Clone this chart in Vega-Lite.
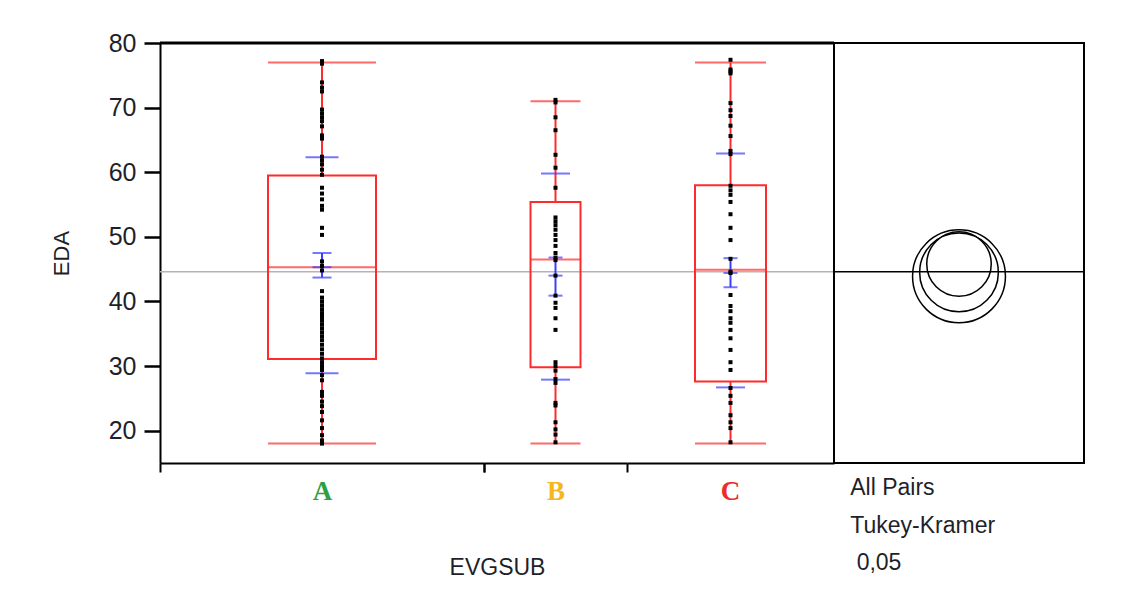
{
  "$schema": "https://vega.github.io/schema/vega-lite/v6.json",
  "background": "white",
  "padding": {"left": 50, "top": 31, "right": 5, "bottom": 5},
  "config": {"view": {"stroke": null}, "font": "Liberation Sans"},
  "spacing": 0,
  "bounds": "flush",
  "datasets": {
    "overall": [{"grand_mean": 44.6}],
    "stats": [
      {"g": "A", "min": 18, "q1": 31.1, "median": 45.3, "q3": 59.5, "max": 77, "mean": 45.3, "ci_lo": 43.7, "ci_hi": 47.5, "sd_lo": 28.9, "sd_hi": 62.3},
      {"g": "B", "min": 18, "q1": 29.8, "median": 46.5, "q3": 55.4, "max": 71.0, "mean": 44.0, "ci_lo": 40.9, "ci_hi": 46.8, "sd_lo": 27.9, "sd_hi": 59.8},
      {"g": "C", "min": 18, "q1": 27.6, "median": 44.9, "q3": 58.0, "max": 77, "mean": 44.4, "ci_lo": 42.2, "ci_hi": 46.7, "sd_lo": 26.7, "sd_hi": 62.9}
    ],
    "circles": [
      {"g": "A", "center": 45.8, "radius": 5.0},
      {"g": "B", "center": 43.9, "radius": 7.2},
      {"g": "C", "center": 44.5, "radius": 6.1}
    ],
    "points": [
      {"g": "A", "EDA": 77.2}, {"g": "A", "EDA": 77.0}, {"g": "A", "EDA": 76.8}, {"g": "A", "EDA": 73.9}, {"g": "A", "EDA": 73.1}, {"g": "A", "EDA": 72.5}, {"g": "A", "EDA": 69.7}, {"g": "A", "EDA": 69.1}, {"g": "A", "EDA": 68.5}, {"g": "A", "EDA": 67.9}, {"g": "A", "EDA": 67.1}, {"g": "A", "EDA": 65.7}, {"g": "A", "EDA": 65.2}, {"g": "A", "EDA": 62.4}, {"g": "A", "EDA": 61.8}, {"g": "A", "EDA": 61.2}, {"g": "A", "EDA": 60.4}, {"g": "A", "EDA": 59.6}, {"g": "A", "EDA": 57.6}, {"g": "A", "EDA": 56.7}, {"g": "A", "EDA": 55.8}, {"g": "A", "EDA": 54.8}, {"g": "A", "EDA": 54.2}, {"g": "A", "EDA": 51.4}, {"g": "A", "EDA": 50.3}, {"g": "A", "EDA": 46.2}, {"g": "A", "EDA": 45.5}, {"g": "A", "EDA": 44.8}, {"g": "A", "EDA": 41.6}, {"g": "A", "EDA": 40.6}, {"g": "A", "EDA": 40.0}, {"g": "A", "EDA": 39.4}, {"g": "A", "EDA": 38.8}, {"g": "A", "EDA": 38.2}, {"g": "A", "EDA": 37.6}, {"g": "A", "EDA": 37.0}, {"g": "A", "EDA": 36.4}, {"g": "A", "EDA": 35.8}, {"g": "A", "EDA": 35.2}, {"g": "A", "EDA": 34.6}, {"g": "A", "EDA": 34.0}, {"g": "A", "EDA": 33.3}, {"g": "A", "EDA": 32.6}, {"g": "A", "EDA": 31.9}, {"g": "A", "EDA": 31.2}, {"g": "A", "EDA": 30.6}, {"g": "A", "EDA": 30.0}, {"g": "A", "EDA": 29.4}, {"g": "A", "EDA": 28.6}, {"g": "A", "EDA": 27.8}, {"g": "A", "EDA": 26.0}, {"g": "A", "EDA": 25.4}, {"g": "A", "EDA": 24.5}, {"g": "A", "EDA": 23.8}, {"g": "A", "EDA": 22.9}, {"g": "A", "EDA": 21.6}, {"g": "A", "EDA": 20.4}, {"g": "A", "EDA": 19.3}, {"g": "A", "EDA": 18.5}, {"g": "A", "EDA": 18.0},
      {"g": "B", "EDA": 71.2}, {"g": "B", "EDA": 70.8}, {"g": "B", "EDA": 68.5}, {"g": "B", "EDA": 66.5}, {"g": "B", "EDA": 62.7}, {"g": "B", "EDA": 60.7}, {"g": "B", "EDA": 57.6}, {"g": "B", "EDA": 53.0}, {"g": "B", "EDA": 52.4}, {"g": "B", "EDA": 51.8}, {"g": "B", "EDA": 51.1}, {"g": "B", "EDA": 50.3}, {"g": "B", "EDA": 49.5}, {"g": "B", "EDA": 48.6}, {"g": "B", "EDA": 47.5}, {"g": "B", "EDA": 46.8}, {"g": "B", "EDA": 46.4}, {"g": "B", "EDA": 44.0}, {"g": "B", "EDA": 40.9}, {"g": "B", "EDA": 39.8}, {"g": "B", "EDA": 39.0}, {"g": "B", "EDA": 37.4}, {"g": "B", "EDA": 35.6}, {"g": "B", "EDA": 30.6}, {"g": "B", "EDA": 30.0}, {"g": "B", "EDA": 29.3}, {"g": "B", "EDA": 28.0}, {"g": "B", "EDA": 27.4}, {"g": "B", "EDA": 24.3}, {"g": "B", "EDA": 23.9}, {"g": "B", "EDA": 21.3}, {"g": "B", "EDA": 20.2}, {"g": "B", "EDA": 19.4}, {"g": "B", "EDA": 18.2},
      {"g": "C", "EDA": 77.4}, {"g": "C", "EDA": 75.9}, {"g": "C", "EDA": 75.6}, {"g": "C", "EDA": 75.3}, {"g": "C", "EDA": 70.7}, {"g": "C", "EDA": 69.6}, {"g": "C", "EDA": 68.7}, {"g": "C", "EDA": 67.2}, {"g": "C", "EDA": 65.6}, {"g": "C", "EDA": 63.3}, {"g": "C", "EDA": 62.8}, {"g": "C", "EDA": 57.9}, {"g": "C", "EDA": 57.2}, {"g": "C", "EDA": 56.5}, {"g": "C", "EDA": 55.4}, {"g": "C", "EDA": 53.5}, {"g": "C", "EDA": 51.4}, {"g": "C", "EDA": 49.5}, {"g": "C", "EDA": 46.6}, {"g": "C", "EDA": 44.6}, {"g": "C", "EDA": 44.4}, {"g": "C", "EDA": 41.0}, {"g": "C", "EDA": 39.3}, {"g": "C", "EDA": 38.5}, {"g": "C", "EDA": 37.4}, {"g": "C", "EDA": 36.7}, {"g": "C", "EDA": 35.6}, {"g": "C", "EDA": 34.3}, {"g": "C", "EDA": 32.5}, {"g": "C", "EDA": 30.6}, {"g": "C", "EDA": 29.4}, {"g": "C", "EDA": 26.6}, {"g": "C", "EDA": 25.4}, {"g": "C", "EDA": 24.3}, {"g": "C", "EDA": 22.4}, {"g": "C", "EDA": 21.3}, {"g": "C", "EDA": 20.4}, {"g": "C", "EDA": 18.2}
    ]
  },
  "hconcat": [
    {
      "width": 324, "height": 420,
      "layer": [
        {"data": {"name": "overall"}, "mark": {"type": "rule", "color": "#b4b4b4", "strokeWidth": 1.5},
         "encoding": {"y": {"field": "grand_mean", "type": "quantitative", "scale": {"domain": [15, 80], "nice": false, "zero": false},
           "axis": {"title": "EDA", "values": [20, 30, 40, 50, 60, 70, 80], "labelOverlap": false, "labelFlush": false, "labelFontSize": 25, "labelColor": "#1f1f2a", "labelPadding": 8, "tickSize": 16, "tickWidth": 2.5, "tickColor": "black", "domainColor": "black", "domainWidth": 2, "grid": false, "titleFontSize": 22, "titleFontWeight": "normal", "titleColor": "#1f1f2a", "titlePadding": 35}}}},
        {"data": {"name": "overall"}, "mark": {"type": "rule", "color": "black", "strokeWidth": 3}, "encoding": {"y": {"datum": 80, "type": "quantitative"}}},
        {
          "data": {"name": "stats"}, "transform": [{"filter": "datum.g === 'A'"}],
          "encoding": {"x": {"field": "g", "type": "nominal", "scale": {"domain": ["A"], "paddingInner": 0, "paddingOuter": 0},
                  "axis": {"title": null, "labelAngle": 0, "labelColor": "#2ea043", "labelFont": "Liberation Serif", "labelFontWeight": "bold", "labelFontSize": 27, "labelPadding": 6, "domainColor": "black", "domainWidth": 2, "ticks": true, "tickBand": "extent", "tickSize": 9, "tickColor": "black", "tickWidth": 2}}},
          "layer": [
            {"mark": {"type": "rule", "color": "#ff2b2b", "strokeWidth": 2}, "encoding": {"y": {"field": "min", "type": "quantitative"}, "y2": {"field": "q1"}}},
            {"mark": {"type": "rule", "color": "#ff2b2b", "strokeWidth": 2}, "encoding": {"y": {"field": "q3", "type": "quantitative"}, "y2": {"field": "max"}}},
            {"mark": {"type": "bar", "size": 108, "fill": "transparent", "stroke": "#ff2b2b", "strokeWidth": 2}, "encoding": {"y": {"field": "q1", "type": "quantitative"}, "y2": {"field": "q3"}}},
            {"mark": {"type": "tick", "color": "#ff2b2b", "size": 108, "thickness": 2}, "encoding": {"y": {"field": "min", "type": "quantitative"}}},
            {"mark": {"type": "tick", "color": "#ff2b2b", "size": 108, "thickness": 2}, "encoding": {"y": {"field": "max", "type": "quantitative"}}},
            {"mark": {"type": "tick", "color": "#ff2b2b", "size": 108, "thickness": 2}, "encoding": {"y": {"field": "median", "type": "quantitative"}}},
            {"mark": {"type": "rule", "color": "#3c3cff", "strokeWidth": 2}, "encoding": {"y": {"field": "ci_lo", "type": "quantitative"}, "y2": {"field": "ci_hi"}}},
            {"mark": {"type": "tick", "color": "#3c3cff", "size": 19, "thickness": 2}, "encoding": {"y": {"field": "ci_lo", "type": "quantitative"}}},
            {"mark": {"type": "tick", "color": "#3c3cff", "size": 19, "thickness": 2}, "encoding": {"y": {"field": "ci_hi", "type": "quantitative"}}},
            {"mark": {"type": "tick", "color": "#3c3cff", "size": 19, "thickness": 2}, "encoding": {"y": {"field": "mean", "type": "quantitative"}}},
            {"mark": {"type": "tick", "color": "#3c3cff", "size": 33, "thickness": 2}, "encoding": {"y": {"field": "sd_lo", "type": "quantitative"}}},
            {"mark": {"type": "tick", "color": "#3c3cff", "size": 33, "thickness": 2}, "encoding": {"y": {"field": "sd_hi", "type": "quantitative"}}}
          ]
        },
        {
          "data": {"name": "points"}, "transform": [{"filter": "datum.g === 'A'"}],
          "mark": {"type": "point", "shape": "square", "filled": true, "color": "black", "size": 16, "opacity": 1},
          "encoding": {
            "x": {"field": "g", "type": "nominal"},
            "y": {"field": "EDA", "type": "quantitative"}
          }
        }
      ]
    },
    {
      "width": 143, "height": 420,
      "layer": [
        {"data": {"name": "overall"}, "mark": {"type": "rule", "color": "#b4b4b4", "strokeWidth": 1.5}, "encoding": {"y": {"field": "grand_mean", "type": "quantitative", "scale": {"domain": [15, 80], "nice": false, "zero": false}, "axis": null}}},
        {"data": {"name": "overall"}, "mark": {"type": "rule", "color": "black", "strokeWidth": 3}, "encoding": {"y": {"datum": 80, "type": "quantitative", "axis": null}}},
        {
          "data": {"name": "stats"}, "transform": [{"filter": "datum.g === 'B'"}],
          "encoding": {"x": {"field": "g", "type": "nominal", "scale": {"domain": ["B"], "paddingInner": 0, "paddingOuter": 0},
                  "axis": {"title": "EVGSUB", "titleX": 13, "titleY": 104, "titleAlign": "center", "titleBaseline": "middle", "titleFont": "Liberation Sans", "titleFontSize": 23, "titleFontWeight": "normal", "titleColor": "#1f1f2a", "labelAngle": 0, "labelColor": "#f5b81c", "labelFont": "Liberation Serif", "labelFontWeight": "bold", "labelFontSize": 27, "labelPadding": 6, "domainColor": "black", "domainWidth": 2, "ticks": true, "tickBand": "extent", "tickSize": 9, "tickColor": "black", "tickWidth": 2}}},
          "layer": [
            {"mark": {"type": "rule", "color": "#ff2b2b", "strokeWidth": 2}, "encoding": {"y": {"field": "min", "type": "quantitative", "axis": null}, "y2": {"field": "q1"}}},
            {"mark": {"type": "rule", "color": "#ff2b2b", "strokeWidth": 2}, "encoding": {"y": {"field": "q3", "type": "quantitative", "axis": null}, "y2": {"field": "max"}}},
            {"mark": {"type": "bar", "size": 50, "fill": "transparent", "stroke": "#ff2b2b", "strokeWidth": 2}, "encoding": {"y": {"field": "q1", "type": "quantitative", "axis": null}, "y2": {"field": "q3"}}},
            {"mark": {"type": "tick", "color": "#ff2b2b", "size": 50, "thickness": 2}, "encoding": {"y": {"field": "min", "type": "quantitative", "axis": null}}},
            {"mark": {"type": "tick", "color": "#ff2b2b", "size": 50, "thickness": 2}, "encoding": {"y": {"field": "max", "type": "quantitative", "axis": null}}},
            {"mark": {"type": "tick", "color": "#ff2b2b", "size": 50, "thickness": 2}, "encoding": {"y": {"field": "median", "type": "quantitative", "axis": null}}},
            {"mark": {"type": "rule", "color": "#3c3cff", "strokeWidth": 2}, "encoding": {"y": {"field": "ci_lo", "type": "quantitative", "axis": null}, "y2": {"field": "ci_hi"}}},
            {"mark": {"type": "tick", "color": "#3c3cff", "size": 14, "thickness": 2}, "encoding": {"y": {"field": "ci_lo", "type": "quantitative", "axis": null}}},
            {"mark": {"type": "tick", "color": "#3c3cff", "size": 14, "thickness": 2}, "encoding": {"y": {"field": "ci_hi", "type": "quantitative", "axis": null}}},
            {"mark": {"type": "tick", "color": "#3c3cff", "size": 14, "thickness": 2}, "encoding": {"y": {"field": "mean", "type": "quantitative", "axis": null}}},
            {"mark": {"type": "tick", "color": "#3c3cff", "size": 29, "thickness": 2}, "encoding": {"y": {"field": "sd_lo", "type": "quantitative", "axis": null}}},
            {"mark": {"type": "tick", "color": "#3c3cff", "size": 29, "thickness": 2}, "encoding": {"y": {"field": "sd_hi", "type": "quantitative", "axis": null}}}
          ]
        },
        {
          "data": {"name": "points"}, "transform": [{"filter": "datum.g === 'B'"}],
          "mark": {"type": "point", "shape": "square", "filled": true, "color": "black", "size": 16, "opacity": 1},
          "encoding": {
            "x": {"field": "g", "type": "nominal"},
            "y": {"field": "EDA", "type": "quantitative", "axis": null}
          }
        }
      ]
    },
    {
      "width": 207, "height": 420,
      "layer": [
        {"data": {"name": "overall"}, "mark": {"type": "rule", "color": "#b4b4b4", "strokeWidth": 1.5}, "encoding": {"y": {"field": "grand_mean", "type": "quantitative", "scale": {"domain": [15, 80], "nice": false, "zero": false}, "axis": null}}},
        {"data": {"name": "overall"}, "mark": {"type": "rule", "color": "black", "strokeWidth": 3}, "encoding": {"y": {"datum": 80, "type": "quantitative", "axis": null}}},
        {
          "data": {"name": "stats"}, "transform": [{"filter": "datum.g === 'C'"}],
          "encoding": {"x": {"field": "g", "type": "nominal", "scale": {"domain": ["C"], "paddingInner": 0, "paddingOuter": 0},
                  "axis": {"title": null, "labelAngle": 0, "labelColor": "#ee2a2a", "labelFont": "Liberation Serif", "labelFontWeight": "bold", "labelFontSize": 27, "labelPadding": 15, "domainColor": "black", "domainWidth": 2, "ticks": false}}},
          "layer": [
            {"mark": {"type": "rule", "color": "#ff2b2b", "strokeWidth": 2}, "encoding": {"y": {"field": "min", "type": "quantitative", "axis": null}, "y2": {"field": "q1"}}},
            {"mark": {"type": "rule", "color": "#ff2b2b", "strokeWidth": 2}, "encoding": {"y": {"field": "q3", "type": "quantitative", "axis": null}, "y2": {"field": "max"}}},
            {"mark": {"type": "bar", "size": 71, "fill": "transparent", "stroke": "#ff2b2b", "strokeWidth": 2}, "encoding": {"y": {"field": "q1", "type": "quantitative", "axis": null}, "y2": {"field": "q3"}}},
            {"mark": {"type": "tick", "color": "#ff2b2b", "size": 71, "thickness": 2}, "encoding": {"y": {"field": "min", "type": "quantitative", "axis": null}}},
            {"mark": {"type": "tick", "color": "#ff2b2b", "size": 71, "thickness": 2}, "encoding": {"y": {"field": "max", "type": "quantitative", "axis": null}}},
            {"mark": {"type": "tick", "color": "#ff2b2b", "size": 71, "thickness": 2}, "encoding": {"y": {"field": "median", "type": "quantitative", "axis": null}}},
            {"mark": {"type": "rule", "color": "#3c3cff", "strokeWidth": 2}, "encoding": {"y": {"field": "ci_lo", "type": "quantitative", "axis": null}, "y2": {"field": "ci_hi"}}},
            {"mark": {"type": "tick", "color": "#3c3cff", "size": 14, "thickness": 2}, "encoding": {"y": {"field": "ci_lo", "type": "quantitative", "axis": null}}},
            {"mark": {"type": "tick", "color": "#3c3cff", "size": 14, "thickness": 2}, "encoding": {"y": {"field": "ci_hi", "type": "quantitative", "axis": null}}},
            {"mark": {"type": "tick", "color": "#3c3cff", "size": 14, "thickness": 2}, "encoding": {"y": {"field": "mean", "type": "quantitative", "axis": null}}},
            {"mark": {"type": "tick", "color": "#3c3cff", "size": 29, "thickness": 2}, "encoding": {"y": {"field": "sd_lo", "type": "quantitative", "axis": null}}},
            {"mark": {"type": "tick", "color": "#3c3cff", "size": 29, "thickness": 2}, "encoding": {"y": {"field": "sd_hi", "type": "quantitative", "axis": null}}}
          ]
        },
        {
          "data": {"name": "points"}, "transform": [{"filter": "datum.g === 'C'"}],
          "mark": {"type": "point", "shape": "square", "filled": true, "color": "black", "size": 16, "opacity": 1},
          "encoding": {
            "x": {"field": "g", "type": "nominal"},
            "y": {"field": "EDA", "type": "quantitative", "axis": null}
          }
        }
      ]
    },
    {
      "width": 250, "height": 420,
      "view": {"stroke": "black", "strokeWidth": 2},
      "title": {"text": ["All Pairs", "Tukey-Kramer", "\u200b 0,05"], "orient": "bottom", "anchor": "start", "dx": 17, "offset": 14, "font": "Liberation Sans", "fontSize": 23, "fontWeight": "normal", "color": "#1f1f2a", "lineHeight": 37.5, "baseline": "top"},
      "layer": [
        {"data": {"name": "overall"}, "mark": {"type": "rule", "color": "black", "strokeWidth": 1.5}, "encoding": {"y": {"field": "grand_mean", "type": "quantitative", "scale": {"domain": [15, 80], "nice": false, "zero": false}, "axis": null}}},
        {"data": {"name": "circles"}, "mark": {"type": "point", "shape": "circle", "filled": false, "stroke": "black", "strokeWidth": 1.5, "opacity": 1},
         "encoding": {
           "y": {"field": "center", "type": "quantitative", "scale": {"domain": [15, 80], "nice": false, "zero": false}, "axis": null},
           "size": {"field": "radius", "type": "quantitative", "scale": {"type": "pow", "exponent": 2, "domain": [0, 10], "range": [0, 16641]}, "legend": null}
         }}
      ]
    }
  ]
}
